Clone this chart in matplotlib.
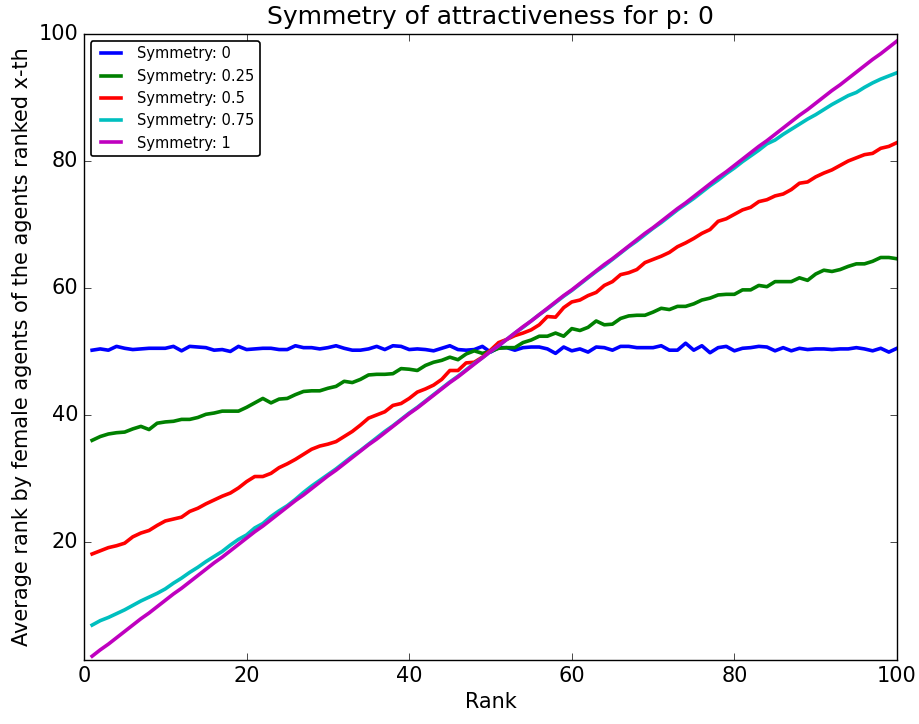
import matplotlib
matplotlib.use("Agg")
import matplotlib.pyplot as plt

plt.style.use("classic")
plt.rcParams["font.family"] = ["DejaVu Sans"]
plt.rcParams["font.size"] = 15

ranks = list(range(1, 101))

sym_0 = [50.2, 50.4, 50.2, 50.8, 50.5, 50.3, 50.4, 50.5, 50.5, 50.5,
         50.8, 50.1, 50.8, 50.7, 50.6, 50.2, 50.3, 50.0, 50.8, 50.3,
         50.4, 50.5, 50.5, 50.3, 50.3, 50.9, 50.6, 50.6, 50.4, 50.6,
         50.9, 50.5, 50.2, 50.2, 50.4, 50.8, 50.3, 50.9, 50.8, 50.3,
         50.4, 50.3, 50.1, 50.5, 50.9, 50.3, 50.2, 50.3, 50.8, 49.9,
         50.6, 50.6, 50.2, 50.6, 50.7, 50.7, 50.4, 49.7, 50.7, 50.1,
         50.4, 49.9, 50.7, 50.6, 50.2, 50.8, 50.8, 50.6, 50.6, 50.6,
         50.9, 50.2, 50.2, 51.3, 50.2, 50.9, 49.8, 50.6, 50.8, 50.1,
         50.5, 50.6, 50.8, 50.7, 50.1, 50.6, 50.1, 50.5, 50.3, 50.4,
         50.4, 50.3, 50.4, 50.4, 50.6, 50.4, 50.1, 50.5, 49.9, 50.5]

sym_025 = [36.0, 36.6, 37.0, 37.2, 37.3, 37.8, 38.2, 37.7, 38.7, 38.9,
           39.0, 39.3, 39.3, 39.6, 40.1, 40.3, 40.6, 40.6, 40.6, 41.2,
           41.9, 42.6, 41.9, 42.5, 42.6, 43.2, 43.7, 43.8, 43.8, 44.2,
           44.5, 45.3, 45.1, 45.6, 46.3, 46.4, 46.4, 46.5, 47.3, 47.2,
           47.0, 47.8, 48.3, 48.6, 49.1, 48.7, 49.6, 50.1, 49.7, 50.0,
           50.5, 50.6, 50.6, 51.4, 51.8, 52.4, 52.4, 52.9, 52.4, 53.6,
           53.3, 53.8, 54.8, 54.2, 54.3, 55.2, 55.6, 55.7, 55.7, 56.2,
           56.8, 56.6, 57.1, 57.1, 57.5, 58.1, 58.4, 58.9, 59.0, 59.0,
           59.7, 59.7, 60.4, 60.2, 61.0, 61.0, 61.0, 61.6, 61.2, 62.2,
           62.8, 62.6, 62.9, 63.4, 63.8, 63.8, 64.2, 64.8, 64.8, 64.6]

sym_05 = [18.1, 18.6, 19.1, 19.4, 19.8, 20.8, 21.4, 21.8, 22.6, 23.3,
          23.6, 23.9, 24.8, 25.3, 26.0, 26.6, 27.2, 27.7, 28.5, 29.5,
          30.3, 30.3, 30.8, 31.7, 32.3, 33.0, 33.8, 34.6, 35.1, 35.4,
          35.8, 36.6, 37.4, 38.4, 39.5, 40.0, 40.5, 41.5, 41.8, 42.6,
          43.6, 44.1, 44.7, 45.6, 47.0, 47.0, 48.2, 48.3, 49.1, 50.2,
          51.4, 51.9, 52.5, 52.9, 53.4, 54.2, 55.5, 55.4, 56.9, 57.8,
          58.1, 58.8, 59.3, 60.4, 61.0, 62.1, 62.4, 62.9, 64.0, 64.5,
          65.0, 65.6, 66.5, 67.1, 67.8, 68.6, 69.2, 70.5, 70.9, 71.6,
          72.3, 72.7, 73.6, 73.9, 74.5, 74.8, 75.5, 76.5, 76.7, 77.5,
          78.1, 78.6, 79.3, 80.0, 80.5, 81.0, 81.2, 82.0, 82.3, 82.9]

sym_075 = [6.9, 7.6, 8.1, 8.7, 9.3, 10.0, 10.7, 11.3, 11.9, 12.6,
           13.5, 14.3, 15.2, 16.0, 16.9, 17.7, 18.5, 19.5, 20.4, 21.1,
           22.2, 22.9, 24.0, 24.9, 25.7, 26.7, 27.8, 28.8, 29.7, 30.6,
           31.5, 32.5, 33.5, 34.4, 35.4, 36.4, 37.4, 38.3, 39.3, 40.3,
           41.2, 42.2, 43.2, 44.2, 45.2, 46.1, 47.1, 48.1, 49.0, 50.0,
           50.9, 51.9, 52.9, 53.8, 54.8, 55.8, 56.7, 57.7, 58.7, 59.6,
           60.6, 61.6, 62.6, 63.5, 64.5, 65.5, 66.5, 67.4, 68.4, 69.4,
           70.3, 71.3, 72.3, 73.2, 74.1, 75.1, 76.1, 77.0, 78.0, 78.9,
           79.9, 80.8, 81.7, 82.7, 83.3, 84.2, 85.0, 85.8, 86.6, 87.3,
           88.1, 88.9, 89.6, 90.3, 90.8, 91.6, 92.3, 92.9, 93.4, 93.9]

sym_1 = [2.0, 3.0, 3.9, 4.9, 5.9, 6.9, 7.9, 8.8, 9.8, 10.8,
         11.8, 12.7, 13.7, 14.7, 15.7, 16.7, 17.6, 18.6, 19.6, 20.6,
         21.6, 22.5, 23.5, 24.5, 25.5, 26.5, 27.4, 28.4, 29.4, 30.4,
         31.3, 32.3, 33.3, 34.3, 35.3, 36.2, 37.2, 38.2, 39.2, 40.2,
         41.1, 42.1, 43.1, 44.1, 45.1, 46.0, 47.0, 48.0, 49.0, 50.0,
         50.9, 51.9, 52.9, 53.9, 54.8, 55.8, 56.8, 57.8, 58.8, 59.7,
         60.7, 61.7, 62.7, 63.7, 64.6, 65.6, 66.6, 67.6, 68.6, 69.5,
         70.5, 71.5, 72.5, 73.4, 74.4, 75.4, 76.4, 77.4, 78.3, 79.3,
         80.3, 81.3, 82.3, 83.2, 84.2, 85.2, 86.2, 87.2, 88.1, 89.1,
         90.1, 91.1, 92.0, 93.0, 94.0, 95.0, 96.0, 96.9, 97.9, 98.9]

series = [sym_0, sym_025, sym_05, sym_075, sym_1]
labels = ["Symmetry: 0", "Symmetry: 0.25", "Symmetry: 0.5",
          "Symmetry: 0.75", "Symmetry: 1"]
colors = ["b", "g", "r", "c", "m"]

fig = plt.figure(figsize=(9.2, 7.24), dpi=100, facecolor="white")
ax = fig.add_axes([0.0913, 0.0884, 0.8837, 0.8646])
for ys, lab, col in zip(series, labels, colors):
    ax.plot(ranks, ys, color=col, linewidth=2.6, label=lab)

ax.set_xlim(0, 100)
ax.set_ylim(1.4, 100)
ax.set_xticks([0, 20, 40, 60, 80, 100])
ax.set_yticks([20, 40, 60, 80, 100])
ax.tick_params(which="major", length=5, labelsize=15)
ax.set_title("Symmetry of attractiveness for p: 0", fontsize=18, pad=7)
ax.set_xlabel("Rank", fontsize=15)
ax.set_ylabel("Average rank by female agents of the agents ranked x-th", fontsize=15)
leg = ax.legend(loc="upper left", fontsize=10.5, borderaxespad=0.45,
                fancybox=True)
leg.get_frame().set_linewidth(1.2)

fig.savefig("out.png", dpi=100, facecolor="white")
